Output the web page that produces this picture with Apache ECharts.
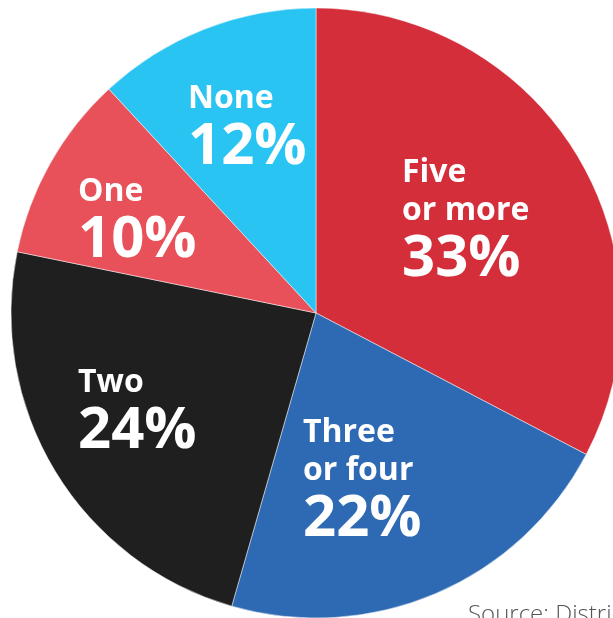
<!DOCTYPE html>
<html>
<head>
<meta charset="utf-8">
<script src="https://cdn.jsdelivr.net/npm/echarts@6/dist/echarts.min.js"></script>
<style>
  html, body { margin: 0; padding: 0; background: #fff; }
  #chart { width: 613px; height: 618px; }
</style>
</head>
<body>
<div id="chart"></div>
<script>
// Households by number of members (share, %)
const categories = ['Five or more', 'Three or four', 'Two', 'One', 'None'];
const labelLines = [['Five', 'or more'], ['Three', 'or four'], ['Two'], ['One'], ['None']];
const shares = [33, 22, 24, 10, 12];
const sliceColors = ['#d32e3a', '#2e6ab3', '#1f1f1f', '#e8505a', '#29c4f2'];

// top-left corner of each slice's text block
const labelCorners = [[402, 154], [303, 414], [78, 364], [78, 173], [188, 80]];

const chart = echarts.init(document.getElementById('chart'), null, { renderer: 'canvas' });

const data = categories.map((name, i) => ({
  name: name,
  value: shares[i],
  itemStyle: { color: sliceColors[i] }
}));

chart.setOption({
  animation: false,
  backgroundColor: '#ffffff',
  textStyle: { fontFamily: '"Open Sans", sans-serif' },
  series: [{
    type: 'pie',
    center: [316, 313],
    radius: [0, 305],
    startAngle: 90,
    clockwise: true,
    data: data,
    itemStyle: { borderColor: 'rgba(255,255,255,0.8)', borderWidth: 0.6 },
    label: {
      show: true,
      position: 'inside',
      align: 'left',
      color: '#fff',
      formatter: function (p) {
        const lines = labelLines[p.dataIndex].map(t => '{a|' + t + '}');
        lines.push('{b|' + p.value + '%}');
        return lines.join('\n');
      },
      rich: {
        a: { fontFamily: '"Open Sans", sans-serif', fontWeight: 'bold', fontSize: 32, lineHeight: 38, color: '#fff', align: 'left' },
        b: { fontFamily: '"Open Sans", sans-serif', fontWeight: 'bold', fontSize: 58, lineHeight: 58, color: '#fff', align: 'left' }
      }
    },
    labelLine: { show: false },
    labelLayout: function (params) {
      const c = labelCorners[params.dataIndex];
      return { x: c[0], y: c[1], align: 'left', verticalAlign: 'top' };
    },
    emphasis: { disabled: true }
  }],
  graphic: [{
    type: 'text',
    left: 468,
    top: 603,
    style: {
      text: 'Source: District records',
      font: '300 24px "Open Sans", sans-serif',
      fill: '#555555'
    }
  }]
});
</script>
</body>
</html>
